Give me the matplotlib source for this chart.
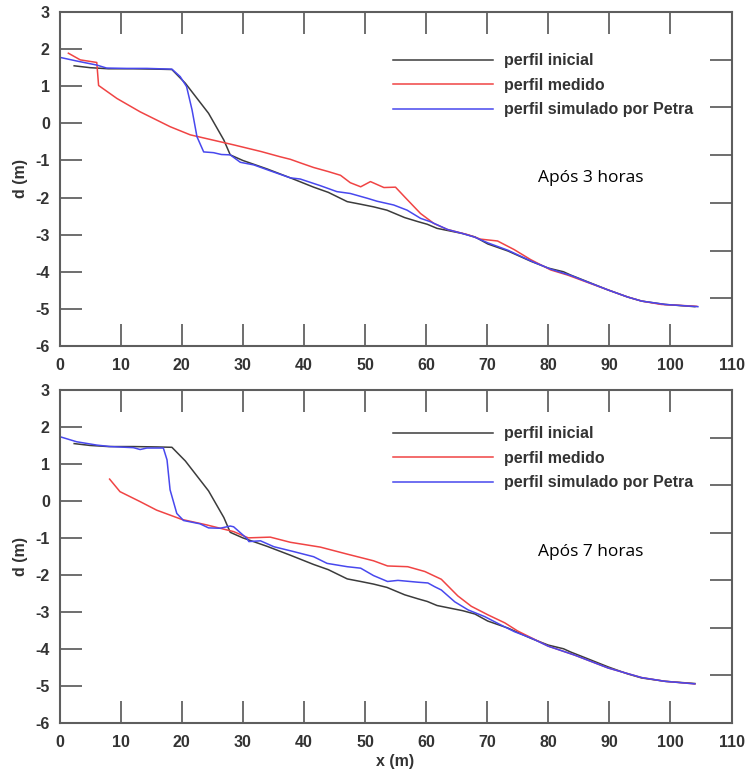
import matplotlib
matplotlib.use("Agg")
import matplotlib.pyplot as plt

# Initial beach profile (same in both panels)
x_inicial = [2.4, 5, 8, 12, 16, 18.4, 20.6, 24.4, 26.9, 27.95, 30, 34, 37.8, 41.6, 44, 47.1,
             49.3, 51.4, 53.6, 56.5, 58.7, 60.2, 61.8, 63.6, 66, 68, 70.1, 73.4, 77.2, 80,
             82.5, 83.7, 86, 89.8, 93, 95.3, 99.1, 104]
d_inicial = [1.55, 1.50, 1.47, 1.47, 1.46, 1.45, 1.08, 0.27, -0.45, -0.85, -1.0, -1.23, -1.47,
             -1.72, -1.86, -2.11, -2.18, -2.25, -2.34, -2.54, -2.65, -2.72, -2.83, -2.89, -2.97,
             -3.06, -3.25, -3.44, -3.72, -3.90, -4.00, -4.09, -4.24, -4.49, -4.68, -4.79, -4.88,
             -4.94]

# After 3 hours
x_medido_3h = [1.45, 3.4, 6.1, 6.4, 9.4, 13.2, 18.1, 21.4, 28.5, 33, 36.1, 37.8, 39.5, 41.6, 44,
               46, 47.6, 49.3, 50.9, 52, 53.1, 55, 56.6, 59.1, 61.3, 63.5, 66.8, 68.9, 71.7, 74.4,
               77.1, 80.4, 83.2, 86, 89.8, 93, 95.3, 98.5, 101, 104.3]
d_medido_3h = [1.89, 1.71, 1.64, 1.02, 0.67, 0.31, -0.09, -0.31, -0.58, -0.76, -0.90, -0.97,
               -1.07, -1.19, -1.30, -1.40, -1.60, -1.71, -1.57, -1.65, -1.73, -1.72, -2.00, -2.43,
               -2.70, -2.86, -3.00, -3.12, -3.17, -3.40, -3.67, -3.95, -4.09, -4.26, -4.49, -4.68,
               -4.79, -4.88, -4.90, -4.93]
x_petra_3h = [0, 2.8, 6.1, 7.7, 11, 14.3, 18.4, 19.75, 20.8, 21.7, 22.5, 23.6, 25.2, 26.5, 27.95,
              29.6, 31.8, 34.5, 37.8, 39.4, 42.7, 45.4, 47.6, 50.4, 52, 54.7, 56.9, 59.1, 60.7,
              63.5, 66, 68, 70.1, 73.4, 77.2, 80.4, 83.7, 86, 89.8, 93, 95.3, 99.1, 104.5]
d_petra_3h = [1.78, 1.68, 1.57, 1.49, 1.48, 1.48, 1.46, 1.26, 0.99, 0.36, -0.36, -0.77, -0.79,
              -0.84, -0.85, -1.05, -1.12, -1.28, -1.47, -1.50, -1.68, -1.84, -1.89, -2.02, -2.10,
              -2.20, -2.34, -2.56, -2.65, -2.86, -2.97, -3.07, -3.22, -3.42, -3.71, -3.93, -4.10,
              -4.25, -4.49, -4.68, -4.79, -4.88, -4.94]

# After 7 hours
x_medido_7h = [8.2, 9.9, 13.2, 15.9, 20, 24.1, 28.5, 30.9, 34.5, 37.8, 42.7, 47.1, 51.4, 53.7, 57,
               59.8, 62.5, 65.2, 67.4, 70.1, 72.9, 75, 77.2, 80, 84.3, 89.8, 95.3, 99.1, 104]
d_medido_7h = [0.59, 0.25, -0.02, -0.25, -0.50, -0.65, -0.83, -1.00, -0.98, -1.12, -1.25, -1.44,
               -1.62, -1.76, -1.78, -1.91, -2.12, -2.57, -2.85, -3.08, -3.30, -3.52, -3.70, -3.93,
               -4.17, -4.52, -4.78, -4.88, -4.95]
x_petra_7h = [0, 2.8, 6.1, 8.3, 12.1, 13.2, 14.3, 17.0, 17.6, 18.1, 19.2, 20.3, 23, 24.4, 26.3,
              27.95, 28.5, 30.7, 31, 32.9, 35.1, 38.3, 41.6, 43.8, 47.1, 49.3, 51.4, 53.7, 55.4,
              58.7, 60.3, 61.4, 62.5, 64.7, 66.9, 69.6, 72.3, 74.5, 77.2, 80, 84.3, 89.8, 95.3,
              99.1, 104]
d_petra_7h = [1.74, 1.60, 1.51, 1.47, 1.44, 1.39, 1.43, 1.43, 1.11, 0.30, -0.34, -0.53, -0.62,
              -0.73, -0.74, -0.68, -0.70, -1.02, -1.10, -1.08, -1.24, -1.37, -1.51, -1.69, -1.78,
              -1.82, -2.02, -2.18, -2.15, -2.20, -2.22, -2.32, -2.41, -2.73, -2.95, -3.13, -3.36,
              -3.54, -3.71, -3.93, -4.17, -4.52, -4.78, -4.88, -4.95]

labels = ["perfil inicial", "perfil medido", "perfil simulado por Petra"]
x_ticks = list(range(0, 111, 10))
y_ticks = list(range(-6, 4))
tempo_textos = ["Após 3 horas", "Após 7 horas"]

COL_INI = "#3c3c3c"
COL_MED = "#f04444"
COL_PET = "#4848ee"
SPINE = "#5e5e5e"
TXT = "#333333"
FS = 11.5

W, H = 748, 776
fig = plt.figure(figsize=(W / 100, H / 100), dpi=100)
fig.patch.set_facecolor("white")

tick_font = dict(family="Liberation Sans", weight="bold", size=FS)


def make_panel(rect, x_med, d_med, x_pet, d_pet, texto, text_y, leg_y, show_xlabel):
    ax = fig.add_axes(rect)
    ax.plot(x_inicial, d_inicial, color=COL_INI, lw=1.1, label=labels[0])
    ax.plot(x_med, d_med, color=COL_MED, lw=1.1, label=labels[1])
    ax.plot(x_pet, d_pet, color=COL_PET, lw=1.1, label=labels[2])
    ax.set_xlim(0, 110)
    ax.set_ylim(-6, 3)
    ax.set_xticks(x_ticks)
    ax.set_yticks(y_ticks)
    ax.set_xticklabels([str(v) for v in x_ticks], **tick_font, color=TXT)
    ax.set_yticklabels([str(v) for v in y_ticks], **tick_font, color=TXT)
    ax.tick_params(axis="both", direction="in", length=16, width=1.2, color="#555555")
    ax.tick_params(axis="x", top=True, pad=9)
    ax.tick_params(axis="y", pad=7)
    for sp in ax.spines.values():
        sp.set_color(SPINE)
        sp.set_linewidth(1.5)
    ax.set_ylabel("d (m)", fontfamily="Liberation Sans", fontweight="bold",
                  fontsize=FS, color=TXT, labelpad=5)
    if show_xlabel:
        ax.set_xlabel("x (m)", fontfamily="Liberation Sans", fontweight="bold",
                      fontsize=FS, color=TXT, labelpad=3)
    # secondary scale on the right with unlabeled ticks
    ax2 = ax.twinx()
    ax2.set_ylim(0, 7)
    ax2.set_yticks(range(1, 7))
    ax2.set_yticklabels([])
    ax2.tick_params(axis="y", direction="in", length=16, width=1.2, color="#555555")
    for sp in ax2.spines.values():
        sp.set_visible(False)
    leg = ax.legend(loc="upper left", bbox_to_anchor=(0.496, leg_y), frameon=False,
                    borderpad=0, borderaxespad=0, handlelength=6.25, handletextpad=0.72,
                    labelspacing=0.59,
                    prop=dict(family="Liberation Sans", weight="bold", size=FS))
    for t in leg.get_texts():
        t.set_color(TXT)
    ax.text(0.7125, text_y, texto, transform=ax.transAxes, ha="left", va="center",
            fontfamily="Open Sans", fontsize=12.5, color="black")
    return ax


make_panel([59.5 / W, (H - 346) / H, 672 / W, 334 / H],
           x_medido_3h, d_medido_3h, x_petra_3h, d_petra_3h,
           tempo_textos[0], 0.502, 0.8765, False)
make_panel([59.5 / W, (H - 722.7) / H, 672 / W, 332.7 / H],
           x_medido_7h, d_medido_7h, x_petra_7h, d_petra_7h,
           tempo_textos[1], 0.514, 0.891, True)

fig.savefig("out.png", dpi=100, facecolor="white")
